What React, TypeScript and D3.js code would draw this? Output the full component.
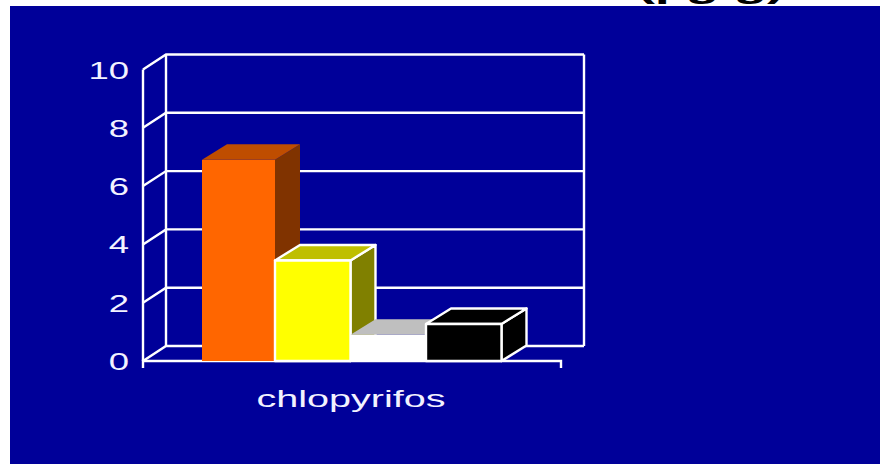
import React from "react";
import * as d3 from "d3";

const categories = ["chlopyrifos"];
const seriesNames = ["a", "b", "c", "d"];
const seriesValues = [6.9, 3.45, 0.9, 1.27];
const frontColors = ["#ff6600", "#ffff00", "#ffffff", "#000000"];
const topColors = ["#bf4d00", "#bfbf00", "#bfbfbf", "#000000"];
const sideColors = ["#803300", "#808000", "#808080", "#000000"];
const strokeColors = ["none", "#ffffff", "none", "#ffffff"];
const yTicks = [0, 2, 4, 6, 8, 10];

const W = 880, H = 464;
const BLUE = "#000099";
const dx = 23, dy = 15;
const y = d3.scaleLinear().domain([0, 10]).range([361, 69.5]);
const xCat = d3.scaleBand().domain(categories).range([143, 561]);
const xBar = d3.scaleBand().domain(seriesNames).range([199.5, 501.5]);
const barsLeft = 202;
const barDx = 25, barDy = 15.5;

function poly(pts: [number, number][]) {
  return d3.line()(pts)! + "Z";
}

export default function App() {
  const x0 = xCat.range()[0], x1 = xCat.range()[1];
  return (
    <svg width={W} height={H} style={{ position: "absolute", left: 0, top: 0, background: "#fff" }}>
      <rect x={10} y={6} width={870} height={458} fill={BLUE} />
      <g fontFamily="'Liberation Sans'" fill="#000" fontWeight="bold">
        <text transform="translate(637,-2.5) scale(1.8,1)" fontSize={30}>(µg/g)</text>
      </g>
      <g stroke="#fff" strokeWidth={2.4} fill="none">
        {yTicks.map((t) => (
          <path key={t} d={`M${x0},${y(t)}L${x0 + dx},${y(t) - dy}H${x1 + dx}`} />
        ))}
        <path d={`M${x0},${y(0)}V${y(10)}`} />
        <path d={`M${x0 + dx},${y(0) - dy}V${y(10) - dy}`} />
        <path d={`M${x1 + dx},${y(0) - dy}V${y(10) - dy}`} />
        <path d={`M${x0},${y(0) + 7}V${y(0)}H${x1}V${y(0) + 7}`} />
      </g>
      {seriesNames.map((s, i) => {
        const l = Math.max(xBar(s)!, barsLeft), r = xBar(s)! + xBar.bandwidth();
        const t = y(seriesValues[i]), b = y(0);
        const st = strokeColors[i];
        return (
          <g key={s} stroke={st} strokeWidth={2.4} strokeLinejoin="round">
            <path d={poly([[r, t], [r + barDx, t - barDy], [r + barDx, b - barDy], [r, b]])} fill={sideColors[i]} />
            <path d={poly([[l, t], [l + barDx, t - barDy], [r + barDx, t - barDy], [r, t]])} fill={topColors[i]} />
            <rect x={l} y={t} width={r - l} height={b - t} fill={frontColors[i]} />
          </g>
        );
      })}
      <g fontFamily="'Liberation Sans'" fill="#f2f2ff" fontSize={24}>
        {yTicks.map((t) => (
          <text key={t} transform={`translate(129,${y(t) + 9}) scale(1.52,1)`} textAnchor="end">{t}</text>
        ))}
        <text transform={`translate(${xCat(categories[0])! + xCat.bandwidth() / 2 - 1},407) scale(1.65,1)`} textAnchor="middle">{categories[0]}</text>
      </g>
    </svg>
  );
}
